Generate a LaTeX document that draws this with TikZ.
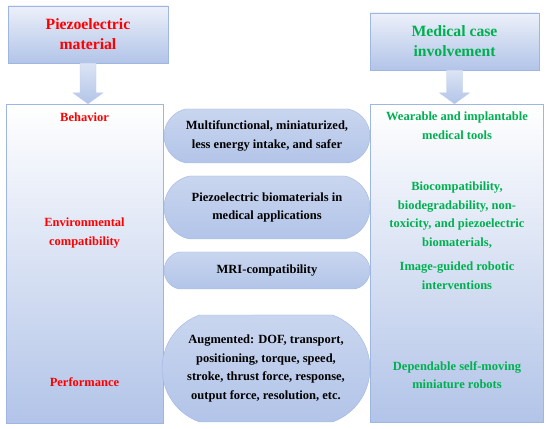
\documentclass[tikz,border=0pt]{standalone}
\usepackage{fontspec}
\setmainfont{Liberation Serif}
\usepackage{tikz}
\usetikzlibrary{positioning,calc,shapes.misc}

\definecolor{edgeblue}{RGB}{160,182,226}
\definecolor{deepblue}{RGB}{178,196,232}
\definecolor{leafgreen}{RGB}{0,176,80}

\begin{document}
\begin{tikzpicture}[x=1pt,y=1pt,
    txt/.style={font=\fontsize{12.5}{18.5}\selectfont\bfseries,align=center},
    headbox/.style={draw=edgeblue,top color=deepblue!25,bottom color=deepblue,
      minimum height=57pt,inner sep=0pt,align=center,
      font=\fontsize{15.7}{20}\selectfont\bfseries},
    panel/.style={draw=edgeblue,top color=white,bottom color=deepblue,inner sep=0pt},
    pill/.style={txt,rounded rectangle,rounded rectangle arc length=155,
      draw=edgeblue,top color=deepblue!70,middle color=white,bottom color=deepblue,
      minimum width=206pt,inner sep=0pt},
    arrowfill/.style={draw=edgeblue!70,top color=deepblue!45,bottom color=deepblue}]
  \useasboundingbox (0,0) rectangle (550,429);
  % heading boxes
  \node[headbox,minimum width=160pt,text=red] (matbox) at (88,394.5) {Piezoelectric\\material};
  \node[headbox,minimum width=169pt,text=leafgreen] (medbox) at (454.5,387.5) {Medical case\\involvement};
  % tall panels
  \node[panel,minimum width=157pt,minimum height=319pt] (leftbox) at (84.5,165.5) {};
  \node[panel,minimum width=173pt,minimum height=318pt] (rightbox) at (456.5,166) {};
  % down arrows
  \foreach \a/\b in {matbox/leftbox,medbox/rightbox}{
    \coordinate (tip) at (\a.south |- \b.north);
    \shade[arrowfill] ($(\a.south)+(-8,0)$) -- ($(\a.south)+(8,0)$)
      -- ($(tip)+(8,11)$) -- ($(tip)+(15,11)$) -- (tip)
      -- ($(tip)+(-15,11)$) -- ($(tip)+(-8,11)$) -- cycle;
  }
  % left column
  \node[txt,text=red] (behav) at (84.5,312) {Behavior};
  \node[txt,text=red] (envir) at (84.5,196) {Environmental\\compatibility};
  \node[txt,text=red] (perf) at (84.5,47) {Performance};
  % middle pills
  \node[pill,minimum height=54pt] (multi) at (267,293)
    {Multifunctional, miniaturized,\\less energy intake, and safer};
  \node[pill,minimum height=63pt] (biomat) at (267,221.5)
    {Piezoelectric biomaterials in\\medical applications};
  \node[pill,minimum height=37pt] (mri) at (267,158.5) {MRI-compatibility};
  \node[pill,minimum height=107pt,minimum width=208pt,rounded rectangle arc length=140] (augm) at (266,60.5)
    {Augmented: DOF, transport,\\positioning, torque, speed,\\stroke, thrust force, response,\\output force, resolution, etc.};
  % right column
  \node[txt,text=leafgreen] (wear) at (457,303.5) {Wearable and implantable\\medical tools};
  \node[txt,text=leafgreen] (bioc) at (457,214)
    {Biocompatibility,\\biodegradability, non-\\toxicity, and piezoelectric\\biomaterials,};
  \node[txt,text=leafgreen] (imag) at (457,153.5) {Image-guided robotic\\interventions};
  \node[txt,text=leafgreen] (depe) at (457,54) {Dependable self-moving\\miniature robots};
\end{tikzpicture}
\end{document}
